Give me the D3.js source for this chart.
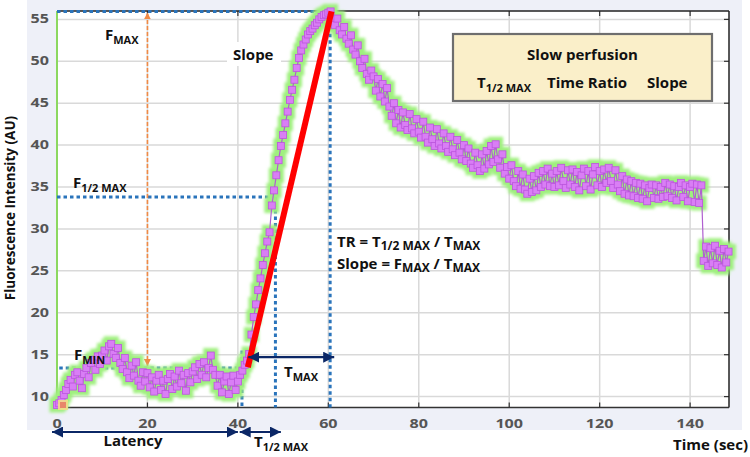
<!DOCTYPE html>
<html><head><meta charset="utf-8">
<script src="https://cdn.jsdelivr.net/npm/d3@7"></script>
<style>
body{margin:0;background:#fff}
svg{display:block}
text{font-family:"Open Sans",sans-serif}
</style>
</head><body>
<svg id="chart" width="750" height="457"></svg>
<script>
// ---- data ----
const sampleStep = 0.5; // seconds between samples
const intensity = [
  9.0, 9.2, 9.6, 10.2, 10.8, 11.5, 12.0, 11.2, 12.6, 12.9, 11.9, 11.0, 12.7, 13.4, 12.3, 14.0, 14.4, 13.2, 14.8, 13.9,
  14.9, 15.5, 14.3, 16.0, 16.3, 15.1, 14.6, 15.8, 14.0, 13.3, 14.6, 12.9, 12.2, 13.7, 12.5, 14.1, 11.9, 11.3, 12.9, 11.8,
  12.8, 11.1, 12.3, 10.6, 11.9, 12.6, 10.8, 11.9, 10.3, 12.1, 12.7, 10.9, 12.4, 11.2, 13.1, 11.6, 12.6, 10.7, 12.8, 11.7,
  13.0, 13.5, 12.1, 13.9, 12.6, 14.1, 12.3, 13.4, 14.9, 13.2, 12.6, 11.3, 12.6, 10.5, 11.8, 12.4, 10.3, 11.7, 12.5, 10.8,
  11.8, 12.6, 13.1, 13.8, 14.3, 15.1, 17.4, 19.5, 21.0, 22.7, 24.1, 25.7, 27.1, 28.5, 29.6, 32.8, 34.6, 36.4, 38.2, 39.9,
  41.2, 42.6, 44.0, 45.4, 46.6, 47.8, 49.2, 50.4, 51.3, 52.0, 52.6, 53.2, 53.6, 53.9, 54.3, 54.6, 55.0, 55.3, 55.5, 55.6,
  55.8, 55.95, 55.0, 54.3, 55.1, 53.7, 53.2, 54.1, 52.7, 52.1, 53.1, 51.4, 50.8, 51.9, 50.0, 49.2, 50.3, 48.5, 47.8, 48.9,
  48.2, 46.5, 47.9, 45.8, 47.3, 45.2, 46.8, 44.6, 43.5, 45.0, 42.6, 44.2, 42.1, 43.9, 42.4, 41.8, 43.7, 42.0, 41.4, 43.1,
  41.6, 40.9, 42.8, 41.0, 40.3, 42.1, 40.7, 39.9, 41.9, 40.2, 39.6, 41.4, 39.9, 39.2, 41.0, 39.5, 38.8, 40.6, 39.1, 38.3,
  40.0, 38.1, 39.6, 37.8, 37.3, 39.1, 37.6, 36.9, 38.9, 37.2, 39.3, 37.7, 39.9, 38.0, 40.1, 38.3, 37.3, 38.9, 36.6, 37.4,
  36.0, 37.6, 35.7, 35.1, 36.9, 34.8, 36.5, 34.7, 34.2, 36.0, 34.4, 36.3, 34.6, 36.7, 35.0, 36.9, 35.3, 37.2, 35.1, 36.6,
  35.0, 36.9, 35.2, 37.3, 35.7, 34.9, 37.0, 35.3, 37.1, 35.0, 36.8, 34.6, 36.4, 37.2, 35.1, 36.9, 34.7, 36.5, 37.4, 35.2,
  36.9, 35.0, 37.1, 35.5, 37.3, 35.7, 34.9, 37.0, 35.3, 34.5, 36.3, 34.2, 35.9, 34.0, 35.7, 33.9, 35.5, 33.7, 35.4, 33.6,
  35.2, 33.3, 34.9, 35.3, 33.7, 35.2, 33.6, 35.0, 33.8, 35.5, 33.9, 35.3, 33.7, 35.1, 33.4, 35.0, 35.5, 33.8, 35.2, 33.3,
  35.0, 35.4, 33.2, 35.3, 33.1, 35.2, 26.2, 27.9, 25.6, 27.7, 25.9, 28.0, 25.7, 27.4, 25.4, 27.6, 26.0, 27.3
];
const xTicks = [0, 20, 40, 60, 80, 100, 120, 140];
const yTicks = [10, 15, 20, 25, 30, 35, 40, 45, 50, 55];
const xDomain = [0, 148.6];
const yDomain = [8.7, 56];

// annotation values
const fMin = 13.4, fHalf = 33.8, fMax = 55.95;
const tOnset = 40.9, tHalf = 48.3, tPeak = 60.4;
const slopeStart = [42.2, 13.5], slopeEnd = [60.7, 55.95];
const tmaxArrow = [42.3, 61.3, 14.7];
const fmaxArrowX = 20;

const points = intensity.map((v, i) => ({t: i * sampleStep, v}));

// ---- layout ----
const svg = d3.select("#chart");
const L = 57, R = 729, T = 11, B = 407.5;
const x = d3.scaleLinear().domain(xDomain).range([L, R]);
const y = d3.scaleLinear().domain(yDomain).range([B, T]);

const defs = svg.append("defs");
defs.append("filter").attr("id", "glow").attr("x", "-20%").attr("y", "-20%").attr("width", "140%").attr("height", "140%")
  .append("feGaussianBlur").attr("stdDeviation", 1.6);
function arrowMarker(id, color, w, h) {
  const m = defs.append("marker").attr("id", id).attr("viewBox", "0 0 10 10")
    .attr("refX", 10).attr("refY", 5).attr("markerWidth", w).attr("markerHeight", h)
    .attr("markerUnits", "userSpaceOnUse").attr("orient", "auto-start-reverse");
  m.append("path").attr("d", "M0,0 L10,5 L0,10 Z").attr("fill", color);
}
arrowMarker("navy", "#0b2766", 11, 11);
arrowMarker("orange", "#f08a45", 7, 7);

// background
svg.append("rect").attr("x", 27).attr("y", 0).attr("width", 715).attr("height", 430).attr("fill", "#eef0f8");
svg.append("rect").attr("x", L).attr("y", T).attr("width", R - L).attr("height", B - T).attr("fill", "#fff");

// grid
const g = svg.append("g");
g.selectAll(".gx").data(xTicks.filter(d => d > 0)).join("line")
  .attr("x1", d => x(d)).attr("x2", d => x(d)).attr("y1", T).attr("y2", B)
  .attr("stroke", "#d9d9d9").attr("stroke-width", 1.5);
g.selectAll(".gy").data(yTicks).join("line")
  .attr("x1", L).attr("x2", R).attr("y1", d => y(d)).attr("y2", d => y(d))
  .attr("stroke", "#d9d9d9").attr("stroke-width", 1.5);

// frame
svg.append("line").attr("x1", L).attr("x2", R).attr("y1", T).attr("y2", T).attr("stroke", "#222").attr("stroke-width", 1.3);
svg.append("line").attr("x1", R).attr("x2", R).attr("y1", T).attr("y2", B).attr("stroke", "#222").attr("stroke-width", 1.5);
svg.append("line").attr("x1", L).attr("x2", R).attr("y1", B).attr("y2", B).attr("stroke", "#333").attr("stroke-width", 1.5);
svg.append("line").attr("x1", L).attr("x2", L).attr("y1", T).attr("y2", B).attr("stroke", "#8cd860").attr("stroke-width", 2);

// ticks
g.selectAll(".tb").data(xTicks.filter(d => d > 0)).join("line")
  .attr("x1", d => x(d)).attr("x2", d => x(d)).attr("y1", B).attr("y2", B - 5).attr("stroke", "#333").attr("stroke-width", 1.2);
g.selectAll(".tt").data(xTicks.filter(d => d > 0)).join("line")
  .attr("x1", d => x(d)).attr("x2", d => x(d)).attr("y1", T).attr("y2", T + 5).attr("stroke", "#333").attr("stroke-width", 1.2);
g.selectAll(".tr").data(yTicks).join("line")
  .attr("x1", R).attr("x2", R - 5).attr("y1", d => y(d)).attr("y2", d => y(d)).attr("stroke", "#333").attr("stroke-width", 1.2);

// tick labels (wide digits)
g.selectAll(".lx").data(xTicks).join("text")
  .attr("transform", d => `translate(${x(d)},428) scale(1.4,1)`)
  .attr("text-anchor", "middle").attr("font-family", "DejaVu Sans").attr("font-size", 11.5)
  .attr("fill", "#555").attr("font-weight", "bold").text(d => d);
g.selectAll(".ly").data(yTicks).join("text")
  .attr("transform", d => `translate(49,${y(d) + 4}) scale(1.4,1)`)
  .attr("text-anchor", "end").attr("font-family", "DejaVu Sans").attr("font-size", 11.5)
  .attr("fill", "#555").attr("font-weight", "bold").text(d => d);

// axis titles
svg.append("text").attr("transform", "translate(15,208) rotate(-90)").attr("text-anchor", "middle")
  .attr("font-size", 13.5).attr("font-weight", "bold").attr("fill", "#111").text("Fluorescence Intensity (AU)");
svg.append("text").attr("x", 748).attr("y", 450).attr("text-anchor", "end")
  .attr("font-size", 15).attr("font-weight", "bold").attr("fill", "#111").text("Time (sec)");

// dotted blue guides
function dline(x1, y1, x2, y2) {
  svg.append("line").attr("x1", x1).attr("y1", y1).attr("x2", x2).attr("y2", y2)
    .attr("stroke", "#2a74bb").attr("stroke-width", 3).attr("stroke-dasharray", "3.5,3");
}
dline(x(0), y(fMax), x(tPeak), y(fMax));
dline(x(0), y(fHalf), x(tHalf), y(fHalf));
dline(x(0.5), y(fMin), x(tOnset), y(fMin));
dline(x(tOnset), y(15.5), x(tOnset), B);
dline(x(tHalf), y(fHalf), x(tHalf), B);
dline(x(tPeak), y(53.3), x(tPeak), B);

// orange FMAX arrow
svg.append("line").attr("x1", x(fmaxArrowX)).attr("x2", x(fmaxArrowX)).attr("y1", y(fMin) - 2).attr("y2", y(fMax) + 1)
  .attr("stroke", "#f08a45").attr("stroke-width", 1.6).attr("stroke-dasharray", "4,2")
  .attr("marker-start", "url(#orange)").attr("marker-end", "url(#orange)");

// data series
const plot = svg.append("g");
plot.append("g").attr("filter", "url(#glow)").selectAll("rect").data(points).join("rect")
  .attr("x", d => x(d.t) - 7.5).attr("y", d => y(d.v) - 7.5).attr("width", 15).attr("height", 15)
  .attr("fill", "#9ff07e");
plot.append("path").datum(points)
  .attr("d", d3.line().x(d => x(d.t)).y(d => y(d.v)))
  .attr("fill", "none").attr("stroke", "#b060d0").attr("stroke-width", 1.2);
plot.append("g").selectAll("rect").data(points).join("rect")
  .attr("x", d => x(d.t) - 3.5).attr("y", d => y(d.v) - 3.5).attr("width", 7).attr("height", 7)
  .attr("fill", "#d97ef5").attr("stroke", "#bb55dd").attr("stroke-width", 0.8);
// first sample highlighted
plot.append("rect").attr("x", x(points[0].t) + 1).attr("y", y(points[0].v) - 5).attr("width", 10).attr("height", 10)
  .attr("fill", "#f2dd88").attr("opacity", 0.9);
plot.append("rect").attr("x", x(points[0].t) + 3).attr("y", y(points[0].v) - 3).attr("width", 6).attr("height", 6)
  .attr("fill", "#e8866a");

// red slope line
svg.append("line").attr("x1", x(slopeStart[0])).attr("y1", y(slopeStart[1]))
  .attr("x2", x(slopeEnd[0])).attr("y2", y(slopeEnd[1]))
  .attr("stroke", "#ff0000").attr("stroke-width", 6);

// navy arrows
function navyArrow(x1, x2, yy) {
  svg.append("line").attr("x1", x1).attr("x2", x2).attr("y1", yy).attr("y2", yy)
    .attr("stroke", "#0b2766").attr("stroke-width", 2.2)
    .attr("marker-start", "url(#navy)").attr("marker-end", "url(#navy)");
}
navyArrow(x(tmaxArrow[0]), x(tmaxArrow[1]), y(tmaxArrow[2]));
navyArrow(x(-1.1), x(40), 432);
navyArrow(x(40.4), x(49.5), 432);

// labels with subscripts
function label(px, py, main, sub, size, subSize) {
  const t = svg.append("text").attr("x", px).attr("y", py).attr("font-size", size)
    .attr("font-weight", "bold").attr("fill", "#111");
  t.append("tspan").text(main);
  if (sub) t.append("tspan").attr("font-size", subSize).attr("dy", 4).text(sub);
  return t;
}
label(105, 40, "F", "MAX", 15, 11);
label(73, 188, "F", "1/2 MAX", 15, 11);
label(74, 360, "F", "MIN", 15, 11);
label(284, 377, "T", "MAX", 15, 11);
label(254, 447, "T", "1/2 MAX", 15, 11);

svg.append("rect").attr("x", 227).attr("y", 42).attr("width", 54).attr("height", 24).attr("fill", "#fff");
svg.append("text").attr("x", 233).attr("y", 60).attr("font-size", 15).attr("font-weight", "bold").attr("fill", "#111").text("Slope");

svg.append("text").attr("x", 133).attr("y", 446).attr("text-anchor", "middle").attr("font-size", 15)
  .attr("font-weight", "bold").attr("fill", "#111").text("Latency");

// formulas
function formula(px, py, parts) {
  const t = svg.append("text").attr("x", px).attr("y", py).attr("font-size", 15).attr("font-weight", "bold").attr("fill", "#111");
  let low = false;
  parts.forEach(([s, sub]) => {
    const sp = t.append("tspan").text(s);
    if (sub && !low) { sp.attr("font-size", 12).attr("dy", 3); low = true; }
    else if (sub) sp.attr("font-size", 12);
    else if (low) { sp.attr("dy", -3); low = false; }
  });
}
formula(337, 247, [["TR = T"], ["1/2 MAX", true], [" / T"], ["MAX", true]]);
formula(337, 269, [["Slope = F"], ["MAX", true], [" / T"], ["MAX", true]]);

// legend box
svg.append("rect").attr("x", 453).attr("y", 34).attr("width", 259).attr("height", 67)
  .attr("fill", "#faefc9").attr("stroke", "#6e6e6e").attr("stroke-width", 2.2);
svg.append("text").attr("x", 582.5).attr("y", 60).attr("text-anchor", "middle").attr("font-size", 15)
  .attr("font-weight", "bold").attr("fill", "#111").text("Slow perfusion");
const lg = svg.append("text").attr("x", 477).attr("y", 88).attr("font-size", 15).attr("font-weight", "bold").attr("fill", "#111");
lg.append("tspan").text("T");
lg.append("tspan").attr("font-size", 11).attr("dy", 4).text("1/2 MAX");
svg.append("text").attr("x", 547).attr("y", 88).attr("font-size", 15).attr("font-weight", "bold").attr("fill", "#111").text("Time Ratio");
svg.append("text").attr("x", 647).attr("y", 88).attr("font-size", 15).attr("font-weight", "bold").attr("fill", "#111").text("Slope");
</script>
</body></html>
